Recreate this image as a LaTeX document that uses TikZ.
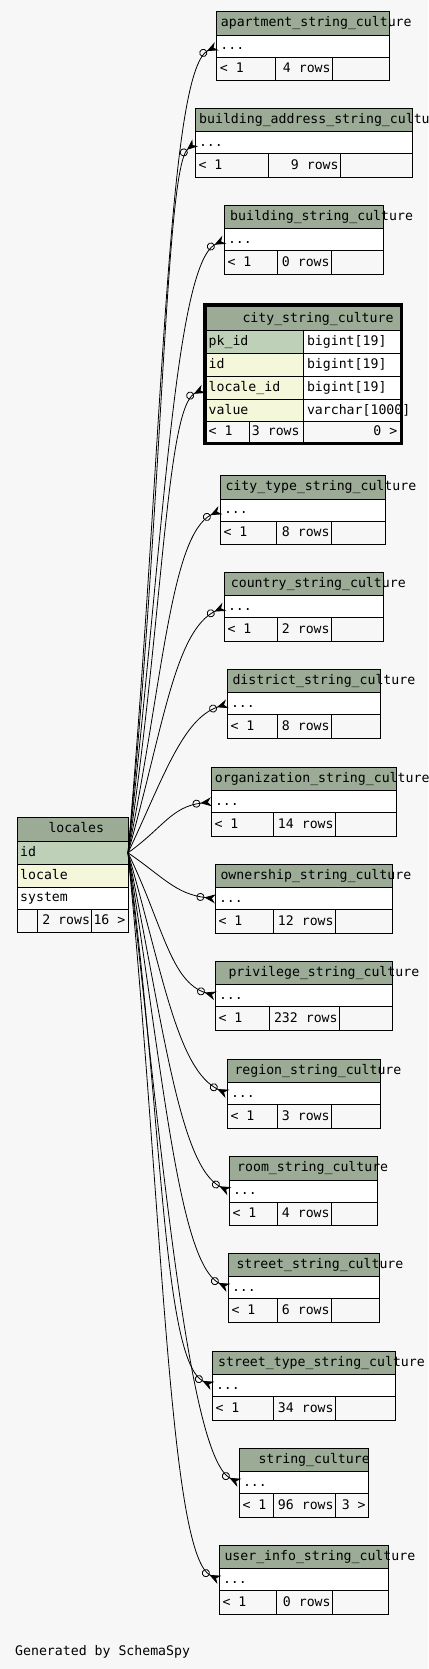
\documentclass[tikz,border=0pt]{standalone}
\usepackage{fontspec}
\setmainfont{DejaVu Sans Mono}
\usetikzlibrary{arrows.meta}
\definecolor{bggray}{HTML}{F7F7F7}
\definecolor{hdrgreen}{HTML}{9BAB96}
\definecolor{pkgreen}{HTML}{BED1B8}
\definecolor{fkyellow}{HTML}{F4F7DA}
\def\myhdrh{23.5pt}
\def\myrowh{22pt}
\def\myfooth{23.5pt}
\tikzset{
my cell/.style={draw,rectangle,line width=1pt,outer sep=0pt,inner sep=0pt,anchor=north west},
my hdr/.style={my cell,fill=hdrgreen,minimum height=\myhdrh},
my row/.style={my cell,fill=white,minimum height=\myrowh},
my foot/.style={my cell,fill=bggray,minimum height=\myfooth},
my text/.style={inner sep=0pt,text height=9.5pt,text depth=2.5pt,font=\fontsize{13.2}{15}\selectfont},
my rel/.style={line width=0.8pt,-{Circle[open,length=8pt,width=8pt]Stealth[reversed,length=11pt,width=9pt]}},
}
% collapsed table: name, left, top, right, split1, split2, title shift, title, rows
\newcommand{\smalltable}[9]{%
\node[my hdr,minimum width={#4-#2}] (#1) at (#2,#3) {};
\node[my row,minimum width={#4-#2}] (#1-r) at (#1.south west) {};
\node[my foot,minimum width={#5-#2}] (#1-f1) at (#1-r.south west) {};
\node[my foot,minimum width={#6-#5}] (#1-f2) at (#1-f1.north east) {};
\node[my foot,minimum width={#4-#6}] (#1-f3) at (#1-f2.north east) {};
\node[my text,anchor=west,xshift=#7] (#1-name) at (#1.west) {#8};
\node[my text,anchor=west,xshift=3.5] (#1-dots) at (#1-r.west) {...};
\node[my text,anchor=west,xshift=3] (#1-min) at (#1-f1.west) {< 1};
\node[my text,anchor=east,xshift=-1.5] (#1-rows) at (#1-f2.east) {#9};
}

\begin{document}
\begin{tikzpicture}[x=1pt,y=-1pt]
\useasboundingbox (0,0) rectangle (428,1669);
\fill[bggray] (0,0) rectangle (428,1669);

% locales
\node[my hdr,minimum width=111,minimum height=24] (loc) at (17,817.3) {};
\node[my cell,fill=pkgreen,minimum width=111,minimum height=23] (loc-id) at (loc.south west) {};
\node[my cell,fill=fkyellow,minimum width=111,minimum height=23] (loc-locale) at (loc-id.south west) {};
\node[my row,minimum width=111] (loc-system) at (loc-locale.south west) {};
\node[my foot,minimum width=20.7,minimum height=23] (loc-f1) at (loc-system.south west) {};
\node[my foot,minimum width=54,minimum height=23] (loc-f2) at (loc-f1.north east) {};
\node[my foot,minimum width=36.3,minimum height=23] (loc-f3) at (loc-f2.north east) {};
\node[my text,anchor=west,xshift=31.3] (loc-name) at (loc.west) {locales};
\node[my text,anchor=west,xshift=3] (loc-t1) at (loc-id.west) {id};
\node[my text,anchor=west,xshift=3] (loc-t2) at (loc-locale.west) {locale};
\node[my text,anchor=west,xshift=3] (loc-t3) at (loc-system.west) {system};
\node[my text,anchor=east,xshift=-1.5] (loc-rows) at (loc-f2.east) {2 rows};
\node[my text,anchor=east,xshift=-2.5] (loc-more) at (loc-f3.east) {16 >};

% city_string_culture
\node[my hdr,minimum width=194,minimum height=24] (city) at (206,306.7) {};
\node[my cell,fill=pkgreen,minimum width=97.3,minimum height=22.8] (city-pk) at (city.south west) {};
\node[my cell,fill=fkyellow,minimum width=97.3,minimum height=22.8] (city-id) at (city-pk.south west) {};
\node[my cell,fill=fkyellow,minimum width=97.3,minimum height=22.8] (city-lid) at (city-id.south west) {};
\node[my cell,fill=fkyellow,minimum width=97.3,minimum height=22.8] (city-val) at (city-lid.south west) {};
\node[my row,minimum width=96.7,minimum height=22.8] (city-pk2) at (city-pk.north east) {};
\node[my row,minimum width=96.7,minimum height=22.8] (city-id2) at (city-id.north east) {};
\node[my row,minimum width=96.7,minimum height=22.8] (city-lid2) at (city-lid.north east) {};
\node[my row,minimum width=96.7,minimum height=22.8] (city-val2) at (city-val.north east) {};
\node[my foot,minimum width=43.3,minimum height=20.5] (city-f1) at (city-val.south west) {};
\node[my foot,minimum width=54,minimum height=20.5] (city-f2) at (city-f1.north east) {};
\node[my foot,minimum width=96.7,minimum height=20.5] (city-f3) at (city-f2.north east) {};
\draw[line width=3pt] (204.8,304.8) rectangle (401.8,443.8);
\node[my text,anchor=west,xshift=36.3] (city-name) at (city.west) {city\_string\_culture};
\node[my text,anchor=west,xshift=2.5] (city-t1) at (city-pk.west) {pk\_id};
\node[my text,anchor=west,xshift=2.5] (city-t2) at (city-id.west) {id};
\node[my text,anchor=west,xshift=2.5] (city-t3) at (city-lid.west) {locale\_id};
\node[my text,anchor=west,xshift=2.5] (city-t4) at (city-val.west) {value};
\node[my text,anchor=west,xshift=3.5] (city-y1) at (city-pk2.west) {bigint[19]};
\node[my text,anchor=west,xshift=3.5] (city-y2) at (city-id2.west) {bigint[19]};
\node[my text,anchor=west,xshift=3.5] (city-y3) at (city-lid2.west) {bigint[19]};
\node[my text,anchor=west,xshift=3.5] (city-y4) at (city-val2.west) {varchar[1000]};
\node[my text,anchor=west,xshift=2.5] (city-min) at (city-f1.west) {< 1};
\node[my text,anchor=east,xshift=-3.5] (city-rows) at (city-f2.east) {3 rows};
\node[my text,anchor=east,xshift=-2.5] (city-more) at (city-f3.east) {0 >};

% the other tables
\smalltable{apt}{216.7}{11.7}{389.3}{275.3}{332.3}{4}{apartment\_string\_culture}{4 rows}
\smalltable{bas}{195.3}{108.3}{412.3}{268.3}{340.3}{3.7}{building\_address\_string\_culture}{9 rows}
\smalltable{bst}{224.3}{205.3}{383.3}{277.3}{331.3}{5.7}{building\_string\_culture}{0 rows}
\smalltable{ctype}{220.3}{475.7}{385.3}{276.3}{331.3}{5}{city\_type\_string\_culture}{8 rows}
\smalltable{country}{224.3}{572.3}{383.3}{277.3}{331.3}{6.4}{country\_string\_culture}{2 rows}
\smalltable{district}{227.3}{669.3}{380.3}{277.3}{331.3}{5}{district\_string\_culture}{8 rows}
\smalltable{org}{211.3}{767.3}{396.3}{273.7}{335.3}{3.4}{organization\_string\_culture}{14 rows}
\smalltable{own}{215.3}{864.3}{392.3}{273.7}{335.3}{5}{ownership\_string\_culture}{12 rows}
\smalltable{priv}{215.3}{961.3}{392.3}{269.3}{339.3}{13}{privilege\_string\_culture}{232 rows}
\smalltable{region}{227.3}{1059.3}{380.3}{277.3}{331.3}{7}{region\_string\_culture}{3 rows}
\smalltable{room}{229.3}{1156.7}{377.3}{277.3}{331.3}{7.7}{room\_string\_culture}{4 rows}
\smalltable{street}{228.3}{1253.3}{379.3}{277.3}{331.3}{8}{street\_string\_culture}{6 rows}
\smalltable{stype}{212.3}{1351.3}{395.3}{273.3}{335.3}{5.7}{street\_type\_string\_culture}{34 rows}
\smalltable{strc}{239.3}{1448.3}{368.3}{273.3}{335.3}{19}{string\_culture}{96 rows}
\node[my text,anchor=east,xshift=-2.5] (strc-more) at (strc-f3.east) {3 >};
\smalltable{user}{219.3}{1545.3}{388.3}{276.3}{332.3}{5}{user\_info\_string\_culture}{0 rows}

% relationships
\draw[my rel] (loc-id.east) .. controls +(35,-403) and +(-50,25) .. (apt-r.west);
\draw[my rel] (loc-id.east) .. controls +(35,-355) and +(-30,25) .. (bas-r.west);
\draw[my rel] (loc-id.east) .. controls +(35,-306) and +(-50,25) .. (bst-r.west);
\draw[my rel,shorten >=2.7pt] (loc-id.east) .. controls +(35,-232) and +(-40,20) .. (city-lid.west);
\draw[my rel] (loc-id.east) .. controls +(35,-171) and +(-50,25) .. (ctype-r.west);
\draw[my rel] (loc-id.east) .. controls +(35,-123) and +(-50,24) .. (country-r.west);
\draw[my rel] (loc-id.east) .. controls +(35,-74) and +(-45,15) .. (district-r.west);
\draw[my rel] (loc-id.east) .. controls +(35,-25) and +(-40,5) .. (org-r.west);
\draw[my rel] (loc-id.east) .. controls +(35,24) and +(-40,-5) .. (own-r.west);
\draw[my rel] (loc-id.east) .. controls +(35,72) and +(-45,-14) .. (priv-r.west);
\draw[my rel] (loc-id.east) .. controls +(35,121) and +(-50,-24) .. (region-r.west);
\draw[my rel] (loc-id.east) .. controls +(35,170) and +(-50,-25) .. (room-r.west);
\draw[my rel] (loc-id.east) .. controls +(35,218) and +(-50,-25) .. (street-r.west);
\draw[my rel] (loc-id.east) .. controls +(35,267) and +(-50,-25) .. (stype-r.west);
\draw[my rel] (loc-id.east) .. controls +(35,316) and +(-50,-25) .. (strc-r.west);
\draw[my rel] (loc-id.east) .. controls +(35,364) and +(-50,-25) .. (user-r.west);

\node[my text,anchor=base west] (credit) at (15,1655) {Generated by SchemaSpy};
\end{tikzpicture}
\end{document}
